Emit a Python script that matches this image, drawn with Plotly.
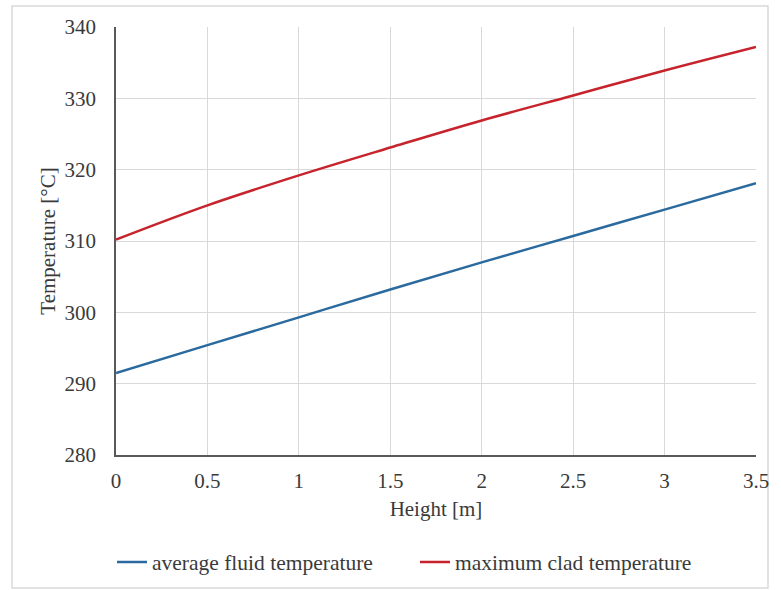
import plotly.graph_objects as go

height_m = [0, 0.5, 1.0, 1.5, 2.0, 2.5, 3.0, 3.5]
avg_fluid = [291.5, 295.4, 299.3, 303.2, 307.0, 310.7, 314.4, 318.1]
max_clad = [310.2, 315.0, 319.2, 323.1, 326.9, 330.4, 333.9, 337.2]
x_ticks = [0, 0.5, 1, 1.5, 2, 2.5, 3, 3.5]
x_tick_text = ["0", "0.5", "1", "1.5", "2", "2.5", "3", "3.5"]
y_ticks = [280, 290, 300, 310, 320, 330, 340]

FONT = "Liberation Serif"
TXT = "#3A3A3A"

fig = go.Figure()
fig.add_trace(go.Scatter(x=height_m, y=avg_fluid, mode="lines", name="average fluid temperature",
                         line=dict(color="#2A6A9E", width=2.5, shape="spline")))
fig.add_trace(go.Scatter(x=height_m, y=max_clad, mode="lines", name="maximum clad temperature",
                         line=dict(color="#C6232C", width=2.5, shape="spline")))

fig.update_layout(
    width=781, height=590,
    margin=dict(l=116, r=25, t=27, b=135, autoexpand=False),
    paper_bgcolor="white", plot_bgcolor="white",
    font=dict(family=FONT, size=21, color=TXT),
    showlegend=True,
    legend=dict(orientation="h", xref="container", yref="container",
                x=112 / 781, xanchor="left", y=(590 - 562) / 590, yanchor="middle",
                font=dict(family=FONT, size=21.5, color=TXT),
                itemwidth=30, tracegroupgap=0, entrywidth=258, entrywidthmode="pixels"),
    xaxis=dict(range=[0, 3.5], tickvals=x_ticks, ticktext=x_tick_text,
               showgrid=True, gridcolor="#D9D9D9", gridwidth=1,
               showline=True, linecolor="#595959", linewidth=1.5,
               ticks="outside", ticklen=6, tickcolor="rgba(0,0,0,0)",
               zeroline=False, tickfont=dict(family=FONT, size=21, color=TXT),
               title=dict(text="Height [m]", font=dict(family=FONT, size=21, color=TXT), standoff=9)),
    yaxis=dict(range=[280, 340], tickvals=y_ticks,
               showgrid=True, gridcolor="#D9D9D9", gridwidth=1,
               showline=True, linecolor="#595959", linewidth=1.5,
               ticks="outside", ticklen=14, tickcolor="rgba(0,0,0,0)",
               zeroline=False, tickfont=dict(family=FONT, size=21, color=TXT),
               title=dict(text="Temperature [°C]", font=dict(family=FONT, size=21, color=TXT), standoff=3)),
)

# outer frame of chart
fig.add_shape(type="rect", xref="paper", yref="paper",
              x0=(12 - 116) / 640, x1=(768 - 116) / 640,
              y0=(455 - 588) / 428, y1=(455 - 6) / 428,
              line=dict(color="#D9D9D9", width=1.5), layer="below")

fig.write_html("out.html")
